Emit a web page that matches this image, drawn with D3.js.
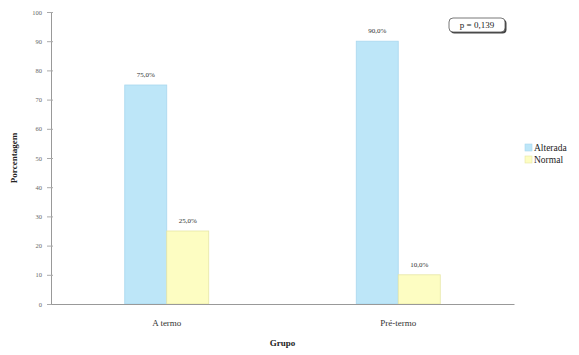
<!DOCTYPE html>
<html>
<head>
<meta charset="utf-8">
<script src="https://cdn.jsdelivr.net/npm/d3@7"></script>
<style>
  html, body { margin: 0; padding: 0; background: #fff; }
  svg { display: block; font-family: "Liberation Serif", "Times New Roman", serif; }
</style>
</head>
<body>
<svg id="chart" width="579" height="355"></svg>
<script>
// Grouped bar chart: percentage of altered / normal results per group
const groups = ["A termo", "Pré-termo"];
const seriesNames = ["Alterada", "Normal"];
const alterada = [75.0, 90.0];
const normal = [25.0, 10.0];
const yTicks = [0, 10, 20, 30, 40, 50, 60, 70, 80, 90, 100];
const pLabel = "p = 0,139";

const colors = { Alterada: "#bde6f8", Normal: "#fdfdc2" };
const strokes = { Alterada: "#a9d8ee", Normal: "#e6e6a6" };

const svg = d3.select("#chart");
const margin = { left: 51, right: 65, top: 12, bottom: 51 };
const W = 579, H = 355;

const x = d3.scaleBand().domain(groups).range([margin.left, W - margin.right]).padding(0);
const xs = d3.scaleBand().domain(seriesNames).range([0, 84]);
const y = d3.scaleLinear().domain([0, 100]).range([H - margin.bottom, margin.top]);

const rows = groups.map((g, i) => ({ group: g, values: [
  { key: "Alterada", v: alterada[i] },
  { key: "Normal", v: normal[i] }
]}));

// bars
const g = svg.append("g");
const grp = g.selectAll("g.grp").data(rows).join("g")
  .attr("transform", d => `translate(${x(d.group) + x.bandwidth() / 2 - 42},0)`);
grp.selectAll("rect").data(d => d.values).join("rect")
  .attr("x", d => xs(d.key))
  .attr("y", d => y(d.v))
  .attr("width", xs.bandwidth())
  .attr("height", d => y(0) - y(d.v))
  .attr("fill", d => colors[d.key])
  .attr("stroke", d => strokes[d.key])
  .attr("stroke-width", 0.8);
grp.selectAll("text").data(d => d.values).join("text")
  .attr("x", d => xs(d.key) + xs.bandwidth() / 2)
  .attr("y", d => y(d.v) - 8)
  .attr("text-anchor", "middle")
  .attr("font-size", 7)
  .attr("fill", "#333")
  .text(d => d.v.toFixed(1).replace(".", ",") + "%");

// y axis
const yAxis = d3.axisLeft(y).tickValues(yTicks).tickSize(4).tickFormat(d3.format("d"));
const ya = svg.append("g").attr("transform", `translate(${margin.left},0)`).call(yAxis);
ya.select(".domain").attr("stroke", "#999");
ya.selectAll(".tick line").attr("stroke", "#aaa").attr("x2", 2).attr("x1", -4);
ya.selectAll(".tick text").attr("font-size", 6.5).attr("fill", "#666")
  .attr("font-family", "Liberation Serif").attr("x", -9);

// x axis
const xAxis = d3.axisBottom(x).tickSize(0).tickPadding(16);
const xa = svg.append("g").attr("transform", `translate(0,${y(0)})`).call(xAxis);
xa.select(".domain").attr("stroke", "#999");
xa.selectAll(".tick text").attr("font-size", 9).attr("fill", "#333")
  .attr("font-family", "Liberation Serif");

// axis titles
svg.append("text")
  .attr("x", (margin.left + W - margin.right) / 2)
  .attr("y", 346)
  .attr("text-anchor", "middle")
  .attr("font-size", 9).attr("font-weight", "bold").attr("fill", "#222")
  .text("Grupo");
svg.append("text")
  .attr("transform", `translate(17,${(margin.top + H - margin.bottom) / 2}) rotate(-90)`)
  .attr("text-anchor", "middle")
  .attr("font-size", 9).attr("font-weight", "bold").attr("fill", "#222")
  .text("Porcentagem");

// legend
const lg = svg.append("g").attr("transform", "translate(525,144)");
seriesNames.forEach((s, i) => {
  lg.append("rect").attr("x", 0).attr("y", i * 12).attr("width", 7).attr("height", 7)
    .attr("fill", colors[s]).attr("stroke", strokes[s]).attr("stroke-width", 0.6);
  lg.append("text").attr("x", 9).attr("y", i * 12 + 7)
    .attr("font-size", 9.5).attr("fill", "#222").text(s);
});

// p-value annotation box
const pb = svg.append("g").attr("transform", "translate(449,18)");
pb.append("rect").attr("x", 1.5).attr("y", 1.5).attr("width", 56).attr("height", 14)
  .attr("rx", 4).attr("fill", "#444");
pb.append("rect").attr("x", 0).attr("y", 0).attr("width", 56).attr("height", 14)
  .attr("rx", 4).attr("fill", "#fff").attr("stroke", "#555").attr("stroke-width", 0.8);
pb.append("text").attr("x", 28).attr("y", 10).attr("text-anchor", "middle")
  .attr("font-size", 9).attr("fill", "#222").text(pLabel);
</script>
</body>
</html>
